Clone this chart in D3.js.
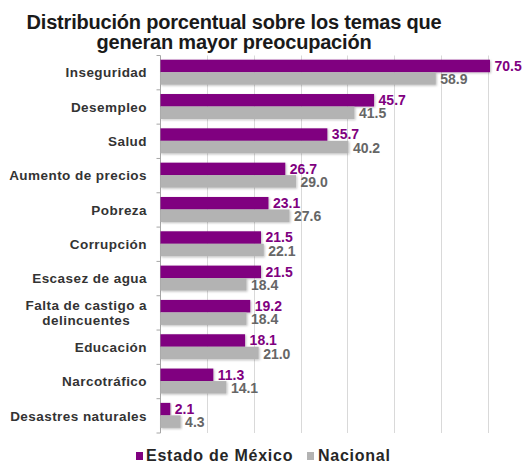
<!DOCTYPE html>
<html>
<head>
<meta charset="utf-8">
<script src="https://cdn.jsdelivr.net/npm/d3@7"></script>
<style>
  html, body { margin: 0; padding: 0; background: #fff; }
  svg { display: block; font-family: "Liberation Sans", Arial, Helvetica, sans-serif; }
</style>
</head>
<body>
<svg id="chart" width="530" height="463"></svg>
<script>
// Temas de preocupación (orden de arriba hacia abajo)
const categories = [
  "Inseguridad", "Desempleo", "Salud", "Aumento de precios", "Pobreza",
  "Corrupción", "Escasez de agua", "Falta de castigo a\ndelincuentes",
  "Educación", "Narcotráfico", "Desastres naturales"
];
const series = ["Estado de México", "Nacional"];
const edomexValues = [70.5, 45.7, 35.7, 26.7, 23.1, 21.5, 21.5, 19.2, 18.1, 11.3, 2.1];
const nacionalValues = [58.9, 41.5, 40.2, 29.0, 27.6, 22.1, 18.4, 18.4, 21.0, 14.1, 4.3];
const gridTicks = [10, 20, 30, 40, 50, 60, 70, 80];
const titleLines = ["Distribución porcentual sobre los temas que", "generan mayor preocupación"];

const colors = { "Estado de México": "#800080", "Nacional": "#b3b3b3" };
const labelColors = { "Estado de México": "#800080", "Nacional": "#666666" };

const svg = d3.select("#chart");

const x = d3.scaleLinear().domain([0, 80]).range([160.5, 534.4]);
const y0 = d3.scaleBand().domain(categories).range([55.5, 433]).padding(0);
const y1 = d3.scaleBand().domain(series).range([4.2, 29.2]).padding(0);

const rows = categories.map((c, i) => ({
  cat: c,
  vals: [
    { s: series[0], v: edomexValues[i] },
    { s: series[1], v: nacionalValues[i] }
  ]
}));

// Soft shadow under the bars
const defs = svg.append("defs");
const f = defs.append("filter").attr("id", "shadow")
  .attr("x", "-5%").attr("y", "-30%").attr("width", "115%").attr("height", "170%");
f.append("feDropShadow").attr("dx", 1).attr("dy", 1).attr("stdDeviation", 0.8)
  .attr("flood-color", "#000").attr("flood-opacity", 0.25);

// Title
svg.append("g").selectAll("text").data(titleLines).join("text")
  .attr("x", 234).attr("y", (d, i) => 28.5 + i * 20)
  .attr("text-anchor", "middle")
  .attr("font-size", "20px").attr("font-weight", "bold")
  .attr("letter-spacing", "-0.2px")
  .attr("fill", "#1a1a1a")
  .text(d => d);

// Vertical gridlines
svg.append("g").selectAll("line").data(gridTicks).join("line")
  .attr("x1", d => Math.round(x(d)) + 0.5).attr("x2", d => Math.round(x(d)) + 0.5)
  .attr("y1", y0.range()[0]).attr("y2", y0.range()[1])
  .attr("stroke", "#d9d9d9").attr("stroke-width", 1);

// Category axis
const yAxis = svg.append("g").attr("transform", `translate(${x(0)},0)`);
yAxis.append("line")
  .attr("x1", 0).attr("x2", 0)
  .attr("y1", y0.range()[0]).attr("y2", y0.range()[1])
  .attr("stroke", "#a6a6a6");
const boundaries = categories.map(c => y0(c)).concat([y0.range()[1]]);
yAxis.selectAll("line.tick").data(boundaries).join("line")
  .attr("class", "tick")
  .attr("x1", -4).attr("x2", 0)
  .attr("y1", d => d).attr("y2", d => d)
  .attr("stroke", "#a6a6a6");

// Category labels
const labelRight = 147;
const catG = svg.append("g");
rows.forEach(r => {
  const lines = r.cat.split("\n");
  const cy = y0(r.cat) + y0.bandwidth() / 2;
  const t = catG.append("text")
    .attr("font-size", "13.5px").attr("font-weight", "bold")
    .attr("letter-spacing", "0.45px")
    .attr("fill", "#333333");
  const lh = 14.5;
  lines.forEach((ln, k) => {
    t.append("tspan")
      .attr("y", cy + 4.7 + (k - (lines.length - 1) / 2) * lh)
      .text(ln);
  });
  if (lines.length === 1) {
    t.attr("text-anchor", "end").selectAll("tspan").attr("x", labelRight);
  } else {
    const widths = [];
    t.selectAll("tspan").each(function () { widths.push(this.getComputedTextLength()); });
    const cx = labelRight - d3.max(widths) / 2;
    t.attr("text-anchor", "middle").selectAll("tspan").attr("x", cx);
  }
});

// Bars
const groups = svg.append("g").selectAll("g").data(rows).join("g")
  .attr("transform", d => `translate(0,${y0(d.cat)})`);

groups.selectAll("rect").data(d => d.vals).join("rect")
  .attr("x", x(0))
  .attr("y", d => y1(d.s))
  .attr("width", d => x(d.v) - x(0))
  .attr("height", y1.bandwidth())
  .attr("fill", d => colors[d.s])
  .attr("filter", "url(#shadow)");

// Value labels
groups.selectAll("text").data(d => d.vals).join("text")
  .attr("x", d => x(d.v) + 4.5)
  .attr("y", (d, i) => y1(d.s) + y1.bandwidth() / 2 + (i === 0 ? 4.8 : 5.6))
  .attr("font-size", "14px").attr("font-weight", "bold")
  .attr("fill", d => labelColors[d.s])
  .text(d => d.v.toFixed(1));

// Legend
const legend = svg.append("g");
const legendItems = [
  { s: series[0], sx: 136, tx: 146 },
  { s: series[1], sx: 307, tx: 318 }
];
legend.selectAll("rect").data(legendItems).join("rect")
  .attr("x", d => d.sx).attr("y", 452).attr("width", 7).attr("height", 8)
  .attr("fill", d => colors[d.s]);
legend.selectAll("text").data(legendItems).join("text")
  .attr("x", d => d.tx).attr("y", 460.7)
  .attr("font-size", "16px").attr("font-weight", "bold")
  .attr("letter-spacing", "0.75px")
  .attr("fill", "#262626")
  .text(d => d.s);
</script>
</body>
</html>
